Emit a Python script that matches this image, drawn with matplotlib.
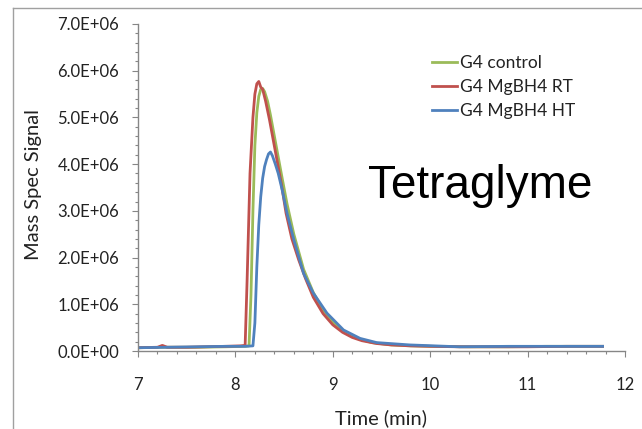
import matplotlib
matplotlib.use("Agg")
import matplotlib.pyplot as plt
from matplotlib.ticker import MultipleLocator, FuncFormatter
from matplotlib.lines import Line2D

# Data (time in min, signal in units of 1E6)
t_control = [7.0, 7.3, 7.6, 7.9, 8.10, 8.14, 8.16, 8.18, 8.20, 8.22, 8.24, 8.26, 8.28, 8.30,
             8.33, 8.36, 8.40, 8.44, 8.48, 8.53, 8.60, 8.70, 8.80, 8.90, 9.00, 9.10, 9.25,
             9.40, 9.60, 9.80, 10.0, 10.4, 10.8, 11.2, 11.77]
y_control = [0.07, 0.08, 0.08, 0.09, 0.10, 0.11, 1.2, 3.0, 4.4, 5.1, 5.45, 5.6, 5.62, 5.55,
             5.35, 5.05, 4.6, 4.15, 3.7, 3.15, 2.5, 1.75, 1.25, 0.88, 0.62, 0.44, 0.27,
             0.18, 0.13, 0.11, 0.10, 0.09, 0.09, 0.10, 0.10]

t_rt = [7.0, 7.2, 7.25, 7.3, 7.5, 7.7, 7.9, 8.05, 8.10, 8.12, 8.15, 8.18, 8.20, 8.22, 8.24,
        8.26, 8.28, 8.31, 8.35, 8.39, 8.43, 8.47, 8.52, 8.58, 8.65, 8.72, 8.80, 8.90, 9.00,
        9.10, 9.20, 9.30, 9.45, 9.60, 9.80, 10.0, 10.3, 10.7, 11.0, 11.4, 11.77]
y_rt = [0.07, 0.08, 0.12, 0.08, 0.08, 0.09, 0.10, 0.11, 0.12, 1.5, 3.8, 5.0, 5.5, 5.72, 5.77,
        5.65, 5.6, 5.35, 4.95, 4.5, 4.05, 3.6, 2.95, 2.4, 1.95, 1.55, 1.15, 0.8, 0.56,
        0.4, 0.29, 0.22, 0.16, 0.13, 0.11, 0.10, 0.09, 0.09, 0.09, 0.10, 0.10]

t_ht = [7.0, 7.3, 7.6, 7.9, 8.10, 8.18, 8.20, 8.22, 8.24, 8.26, 8.28, 8.30, 8.32, 8.34, 8.36,
        8.38, 8.41, 8.44, 8.48, 8.53, 8.60, 8.70, 8.80, 8.94, 9.11, 9.28, 9.45, 9.79, 10.3,
        10.8, 11.3, 11.77]
y_ht = [0.07, 0.08, 0.09, 0.10, 0.10, 0.11, 0.6, 1.8, 2.7, 3.3, 3.7, 3.95, 4.1, 4.22, 4.26,
        4.18, 4.0, 3.8, 3.45, 2.95, 2.38, 1.66, 1.24, 0.81, 0.45, 0.27, 0.18, 0.13, 0.09,
        0.10, 0.10, 0.10]

series = [
    ("G4 control", t_control, y_control, "#9BBB59"),
    ("G4 MgBH4 RT", t_rt, y_rt, "#C0504D"),
    ("G4 MgBH4 HT", t_ht, y_ht, "#4F81BD"),
]

W, H = 642, 429
fig = plt.figure(figsize=(W / 100, H / 100), dpi=100)
ax = fig.add_axes([138 / W, 1 - 351 / H, (625 - 138) / W, (351 - 24) / H])

for name, t, y, c in series:
    ax.plot(t, [v * 1e6 for v in y], color=c, lw=2.0, label=name, solid_joinstyle="round")

ax.set_xlim(7, 12)
ax.set_ylim(0, 7e6)
ax.xaxis.set_major_locator(MultipleLocator(1))
ax.xaxis.set_minor_locator(MultipleLocator(0.2))
ax.yaxis.set_major_locator(MultipleLocator(1e6))
ax.yaxis.set_minor_locator(MultipleLocator(0.2e6))
ax.yaxis.set_major_formatter(FuncFormatter(lambda v, p: f"{v:.1E}"))

grey = "#868686"
for s in ["top", "right"]:
    ax.spines[s].set_visible(False)
for s in ["left", "bottom"]:
    ax.spines[s].set_color(grey)
    ax.spines[s].set_linewidth(1.0)

ax.tick_params(which="major", length=4.5, width=0.8, color=grey, labelsize=12,
               labelcolor="#222222")
ax.tick_params(which="minor", length=2.5, width=0.8, color=grey)
ax.tick_params(axis="x", which="major", pad=14)
ax.tick_params(axis="y", which="major", pad=9)
for lab in ax.get_xticklabels() + ax.get_yticklabels():
    lab.set_family("Lato")

fig.text(34 / W, 1 - 185 / H, "Mass Spec Signal", rotation=90, ha="center", va="center",
         fontsize=14.5, family="Lato", color="#222222")
fig.text(381 / W, 1 - 418 / H, "Time (min)", ha="center", va="center",
         fontsize=14.5, family="Lato", color="#222222")

fig.text(368 / W, 1 - 198 / H, "Tetraglyme", ha="left", va="baseline",
         fontsize=33, family="Liberation Sans", color="black")

leg = ax.legend(loc="upper left", bbox_to_anchor=(432 / W, 1 - 55 / H),
                bbox_transform=fig.transFigure, frameon=False,
                prop={"family": "Lato", "size": 12.5}, handlelength=1.45,
                handletextpad=0.15, labelspacing=0.45, borderpad=0, borderaxespad=0)
for txt in leg.get_texts():
    txt.set_color("#222222")

# outer chart-area frame (only left and top edges are visible in the crop)
fig.add_artist(Line2D([13 / W, 13 / W], [0, 1 - 8 / H], color="#A0A0A0", lw=1.0,
                      transform=fig.transFigure))
fig.add_artist(Line2D([13 / W, 1], [1 - 8 / H, 1 - 8 / H], color="#A0A0A0", lw=1.0,
                      transform=fig.transFigure))

fig.savefig("out.png", dpi=100)
